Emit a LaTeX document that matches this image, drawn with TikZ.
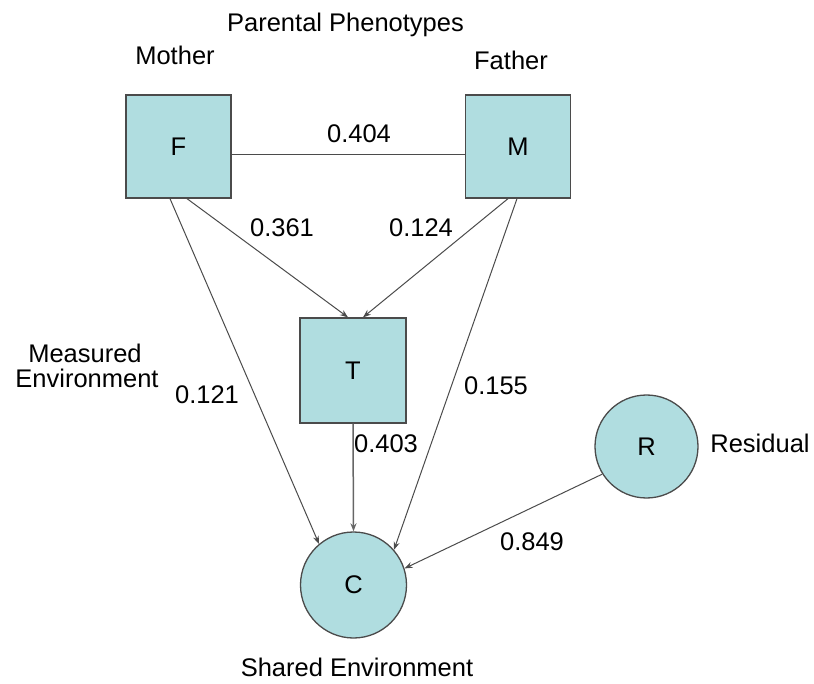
\documentclass[tikz,border=0pt]{standalone}
\usepackage{fontspec}
\setmainfont{Liberation Sans}
\usetikzlibrary{arrows.meta}
\definecolor{boxfill}{RGB}{176,221,224}
\definecolor{edgegray}{RGB}{75,75,75}
\begin{document}
\begin{tikzpicture}[x=1pt,y=-1pt,
  every node/.style={font=\fontsize{25.5}{30}\selectfont},
  sqbox/.style={draw=edgegray,line width=1.3pt,fill=boxfill,minimum width=105pt,minimum height=103pt,inner sep=0pt},
  circnode/.style={circle,draw=edgegray,line width=1.3pt,fill=boxfill,inner sep=0pt},
  lbl/.style={anchor=base,inner sep=0pt},
  conn/.style={draw=edgegray,line width=1pt},
  arr/.style={conn,-{Stealth[length=8pt,width=6pt]}}]
\useasboundingbox (0,0) rectangle (814,684);
\node[sqbox] (F) at (178.5,146.5) {F};
\node[sqbox] (M) at (518,146.5) {M};
\node[sqbox,minimum width=106pt,minimum height=105pt] (T) at (353,370.5) {T};
\node[circnode,minimum size=106pt] (C) at (353.5,585) {C};
\node[circnode,minimum size=103pt] (R) at (646.5,446.5) {R};

\node[lbl] (pp) at (345.5,32) {Parental Phenotypes};
\node[lbl] (mo) at (175,65) {Mother};
\node[lbl] (fa) at (511,70) {Father};
\node[lbl] (me1) at (85,363) {Measured};
\node[lbl] (me2) at (87,388) {Environment};
\node[lbl] (re) at (760,452) {Residual};
\node[lbl] (se) at (357,676) {Shared Environment};

\node[lbl] (l404) at (359,143) {0.404};
\node[lbl] (l361) at (282,237) {0.361};
\node[lbl] (l124) at (421,237) {0.124};
\node[lbl] (l121) at (207,403) {0.121};
\node[lbl] (l155) at (496,395) {0.155};
\node[lbl] (l403) at (386,453) {0.403};
\node[lbl] (l849) at (532,550) {0.849};

\draw[conn] ([yshift=-8.5pt]F.east) -- ([yshift=-8.5pt]M.west);
\draw[arr] ([xshift=8.5pt]F.south) -- ([xshift=-5pt]T.north);
\draw[arr] ([xshift=-10pt]M.south) -- ([xshift=10pt]T.north);
\draw[arr] ([xshift=-8.5pt]F.south) -- (C.130);
\draw[arr] ([xshift=-1pt]M.south) -- (C.41);
\draw[arr,line width=1.5pt,draw=gray!80!black] (T.south) -- (C.north);
\draw[arr] (R.212) -- (C.18);
\end{tikzpicture}
\end{document}
